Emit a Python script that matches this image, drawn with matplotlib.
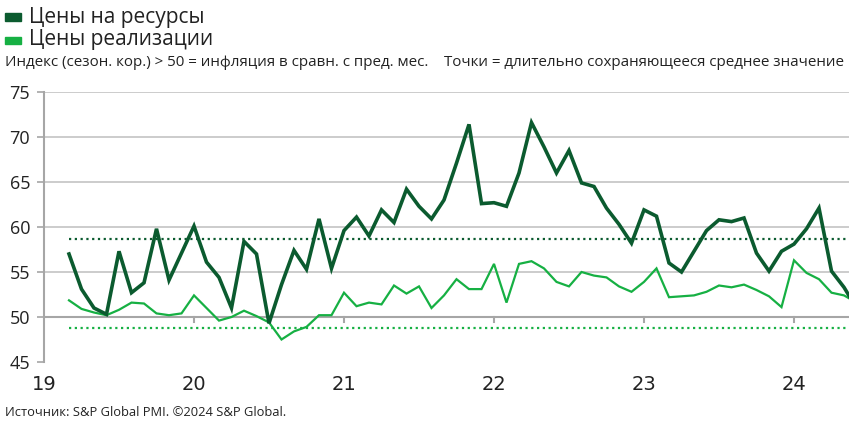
import matplotlib
matplotlib.use("Agg")
import matplotlib.pyplot as plt
from matplotlib.patches import Rectangle
import numpy as np

# ---- data ----
start_year = 2019
start_month = 3  # March 2019
input_prices = [
    57.0, 53.1, 51.0, 50.3, 57.3, 52.7, 53.8, 59.8, 54.1, 57.1,
    60.1, 56.1, 54.4, 51.0, 58.4, 57.0, 49.3, 53.6, 57.4, 55.3, 60.9, 55.4,
    59.6, 61.1, 59.0, 61.9, 60.5, 64.2, 62.3, 60.9, 63.0, 67.1, 71.4, 62.6,
    62.7, 62.3, 66.0, 71.6, 68.9, 66.0, 68.5, 64.9, 64.5, 62.1, 60.3, 58.2,
    61.9, 61.2, 56.0, 55.0, 57.3, 59.6, 60.8, 60.6, 61.0, 57.1, 55.1, 57.3,
    58.1, 59.8, 62.1, 55.1, 53.3, 51.0,
]
output_prices = [
    51.85, 50.9, 50.5, 50.2, 50.8, 51.6, 51.5, 50.4, 50.2, 50.4,
    52.4, 51.0, 49.6, 50.0, 50.7, 50.1, 49.4, 47.5, 48.4, 48.9, 50.2, 50.2,
    52.7, 51.2, 51.6, 51.4, 53.5, 52.6, 53.4, 51.0, 52.4, 54.2, 53.1, 53.1,
    55.9, 51.6, 55.9, 56.2, 55.4, 53.9, 53.4, 55.0, 54.6, 54.4, 53.4, 52.8,
    53.9, 55.4, 52.2, 52.3, 52.4, 52.8, 53.5, 53.3, 53.6, 53.0, 52.3, 51.1,
    56.3, 54.9, 54.2, 52.7, 52.4, 51.6,
]
avg_input = 58.67
avg_output = 48.74
year_ticks = [2019, 2020, 2021, 2022, 2023, 2024]
year_labels = ["19", "20", "21", "22", "23", "24"]
y_ticks = [45, 50, 55, 60, 65, 70, 75]
legend_labels = ["Цены на ресурсы", "Цены реализации"]
subtitle_left = "Индекс (сезон. кор.) > 50 = инфляция в сравн. с пред. мес."
subtitle_right = "Точки = длительно сохраняющееся среднее значение"
source = "Источник: S&P Global PMI. ©2024 S&P Global."

DARK = "#0B5B2F"
LIGHT = "#16B043"
FONT = ["Open Sans", "DejaVu Sans"]
NARROW = ["Liberation Sans Narrow", "DejaVu Sans"]

n = len(input_prices)
x = np.array([start_year + (start_month - 1 + i) / 12.0 for i in range(n)])

plt.rcParams["font.family"] = FONT

W, H = 849, 422
fig = plt.figure(figsize=(W / 100, H / 100), dpi=100)
ax = fig.add_axes([44 / W, 1 - 362 / H, 805 / W, 270 / H])

ax.set_xlim(2019.0, 2019.0 + 805 / 150)
ax.set_ylim(45, 75)

# grid
for v in y_ticks:
    if v in (45, 50):
        continue
    ax.axhline(v, color="#c4c4c4", lw=1.2, zorder=1)
ax.axhline(50, color="#a6a6a6", lw=1.5, zorder=2)

# average dotted lines
ax.plot([x[0], ax.get_xlim()[1]], [avg_input, avg_input], color=DARK,
        lw=1.6, linestyle=(0, (1, 1.6)), zorder=3)
ax.plot([x[0], ax.get_xlim()[1]], [avg_output, avg_output], color=LIGHT,
        lw=1.6, linestyle=(0, (1, 1.6)), zorder=3)

ax.plot(x, output_prices, color=LIGHT, lw=1.6, zorder=4, solid_joinstyle="miter")
ax.plot(x, input_prices, color=DARK, lw=2.6, zorder=5, solid_joinstyle="miter")

# spines
for s in ["top", "right", "bottom"]:
    ax.spines[s].set_visible(False)
ax.spines["left"].set_color("#a6a6a6")
ax.spines["left"].set_linewidth(1.5)

ax.set_yticks(y_ticks)
ax.set_yticklabels([str(v) for v in y_ticks], fontsize=13, color="#222222")
ax.tick_params(axis="y", length=5, width=1.2, color="#a6a6a6", pad=5)

# x ticks: tick marks hanging from the 50 line, labels at bottom
ax.set_xticks(year_ticks)
ax.set_xticklabels([])
ax.tick_params(axis="x", length=0)
for yr in year_ticks[1:]:
    ax.plot([yr, yr], [50, 50 - 5 / 9], color="#a6a6a6", lw=1.5, zorder=2,
            clip_on=False)
for yr, lab in zip(year_ticks, year_labels):
    ax.text(yr, 45 - 22 / 9, lab, ha="center", va="center", fontsize=14,
            family=NARROW, color="#222222")

# legend
for i, (lab, col) in enumerate(zip(legend_labels, [DARK, LIGHT])):
    yc = 17 + i * 23
    fig.patches.append(Rectangle((5 / W, 1 - (yc + 3.5) / H), 16 / W, 7 / H,
                                 transform=fig.transFigure, color=col))
    fig.text(29 / W, 1 - yc / H, lab, fontsize=15, va="center", ha="left",
             color="#222222")

fig.text(5 / W, 1 - 62 / H, subtitle_left, fontsize=10.9, va="center",
         ha="left", color="#222222")
fig.text(844 / W, 1 - 62 / H, subtitle_right, fontsize=10.9, va="center",
         ha="right", color="#222222")
fig.text(5 / W, 1 - 412 / H, source, fontsize=9.3, va="center", ha="left",
         color="#222222")

fig.savefig("out.png", dpi=100)
